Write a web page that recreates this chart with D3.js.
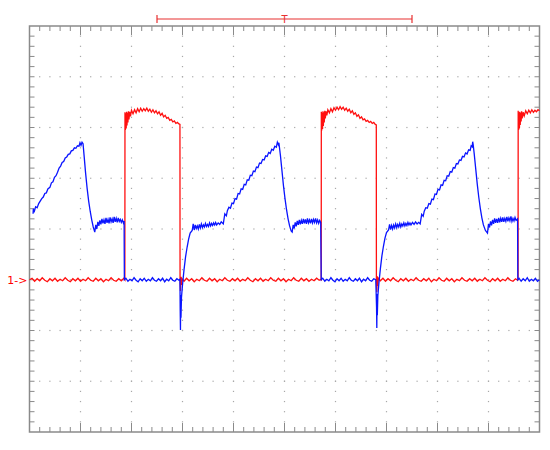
<!DOCTYPE html>
<html>
<head>
<meta charset="utf-8">
<script src="https://cdn.jsdelivr.net/npm/d3@7"></script>
<style>
  body { margin: 0; background: #fff; }
  svg { display: block; }
</style>
</head>
<body>
<div id="scope"></div>
<script>
// graticule: 10 x 8 divisions, 5 minor steps per division
var hDivs = 10;
var vDivs = 8;
var minorPerDiv = 5;

// time cursors and trigger marker (in divisions)
var cursorSpan = [2.5, 7.5];
var triggerPos = 5;
var triggerLabel = "T";

// channel ground marker
var channelLabel = "1->";
var channelOffset = -1;

// channel 1 (red) trace, [time div, volts div]
var redTrace = [
  [0,-1.00],[0.05,-0.97],[0.10,-1.03],[0.15,-0.98],[0.20,-1.02],[0.25,-0.96],[0.30,-1.01],[0.35,-1.04],[0.40,-0.98],[0.45,-1.02],
  [0.50,-0.97],[0.55,-1.03],[0.60,-0.99],[0.65,-1.02],[0.70,-0.96],[0.75,-1.01],[0.80,-1.04],[0.85,-0.98],[0.90,-1.02],[0.95,-0.97],
  [1.00,-1.03],[1.05,-0.99],[1.10,-1.02],[1.15,-0.96],[1.20,-1.01],[1.25,-1.03],[1.30,-0.97],[1.35,-1.02],[1.40,-0.98],[1.45,-1.04],
  [1.50,-0.99],[1.55,-1.02],[1.60,-0.96],[1.65,-1.01],[1.70,-1.03],[1.75,-0.98],[1.80,-1.02],[1.85,-0.97],
  [1.87,-1.00],[1.872,2.30],[1.88,1.95],[1.888,2.28],[1.896,1.98],[1.904,2.31],[1.912,2.04],[1.92,2.29],[1.93,2.10],[1.94,2.32],
  [1.95,2.16],[1.965,2.31],[1.98,2.22],[2.00,2.34],[2.03,2.27],[2.06,2.35],[2.09,2.29],[2.12,2.37],[2.15,2.31],[2.18,2.38],
  [2.21,2.32],[2.24,2.37],[2.27,2.33],[2.30,2.38],[2.33,2.32],[2.36,2.36],[2.39,2.30],[2.42,2.35],[2.45,2.29],[2.48,2.33],
  [2.51,2.27],[2.54,2.31],[2.57,2.24],[2.60,2.28],[2.63,2.21],[2.66,2.24],[2.69,2.18],[2.72,2.20],[2.75,2.14],[2.78,2.16],
  [2.81,2.11],[2.84,2.13],[2.87,2.08],[2.90,2.10],[2.93,2.07],[2.95,2.06],
  [2.952,-1.00],[2.96,-1.22],[2.97,-0.94],[2.98,-1.10],[2.99,-0.98],
  [3.03,-1.03],[3.08,-0.97],[3.13,-1.02],[3.18,-0.98],[3.23,-1.04],[3.28,-0.99],[3.33,-1.02],[3.38,-0.96],[3.43,-1.01],[3.48,-1.03],
  [3.53,-0.97],[3.58,-1.02],[3.63,-0.98],[3.68,-1.04],[3.73,-0.99],[3.78,-1.02],[3.83,-0.96],[3.88,-1.01],[3.93,-1.03],[3.98,-0.98],
  [4.03,-1.02],[4.08,-0.97],[4.13,-1.03],[4.18,-0.99],[4.23,-1.02],[4.28,-0.96],[4.33,-1.01],[4.38,-1.04],[4.43,-0.98],[4.48,-1.02],
  [4.53,-0.97],[4.58,-1.03],[4.63,-0.99],[4.68,-1.02],[4.73,-0.96],[4.78,-1.01],[4.83,-1.03],[4.88,-0.97],[4.93,-1.02],[4.98,-0.98],
  [5.03,-1.04],[5.08,-0.99],[5.13,-1.02],[5.18,-0.96],[5.23,-1.01],[5.28,-1.03],[5.33,-0.97],[5.38,-1.02],[5.43,-0.98],[5.48,-1.03],
  [5.53,-0.99],[5.58,-1.02],[5.63,-0.97],[5.68,-1.01],[5.71,-0.99],
  [5.72,-1.00],[5.722,2.31],[5.73,1.94],[5.738,2.29],[5.746,1.97],[5.754,2.32],[5.762,2.03],[5.77,2.30],[5.78,2.10],[5.79,2.33],
  [5.80,2.18],[5.815,2.32],[5.83,2.24],[5.85,2.35],[5.88,2.29],[5.91,2.37],[5.94,2.31],[5.97,2.39],[6.00,2.34],[6.03,2.40],
  [6.06,2.35],[6.09,2.41],[6.12,2.36],[6.15,2.40],[6.18,2.34],[6.21,2.38],[6.24,2.32],[6.27,2.36],[6.30,2.29],[6.33,2.33],
  [6.36,2.26],[6.39,2.29],[6.42,2.22],[6.45,2.25],[6.48,2.18],[6.51,2.21],[6.54,2.15],[6.57,2.17],[6.60,2.12],[6.63,2.14],
  [6.66,2.10],[6.69,2.12],[6.72,2.08],[6.75,2.10],[6.78,2.06],[6.80,2.05],
  [6.802,-1.00],[6.81,-1.24],[6.82,-0.93],[6.83,-1.12],[6.84,-0.97],
  [6.88,-1.02],[6.93,-0.97],[6.98,-1.03],[7.03,-0.98],[7.08,-1.02],[7.13,-0.96],[7.18,-1.01],[7.23,-1.04],[7.28,-0.98],[7.33,-1.02],
  [7.38,-0.97],[7.43,-1.03],[7.48,-0.99],[7.53,-1.02],[7.58,-0.96],[7.63,-1.01],[7.68,-1.03],[7.73,-0.98],[7.78,-1.02],[7.83,-0.97],
  [7.88,-1.04],[7.93,-0.99],[7.98,-1.02],[8.03,-0.96],[8.08,-1.01],[8.13,-1.03],[8.18,-0.97],[8.23,-1.02],[8.28,-0.98],[8.33,-1.04],
  [8.38,-0.99],[8.43,-1.02],[8.48,-0.96],[8.53,-1.01],[8.58,-1.03],[8.63,-0.98],[8.68,-1.02],[8.73,-0.97],[8.78,-1.03],[8.83,-0.99],
  [8.88,-1.02],[8.93,-0.96],[8.98,-1.01],[9.03,-1.04],[9.08,-0.98],[9.13,-1.02],[9.18,-0.97],[9.23,-1.03],[9.28,-0.99],[9.33,-1.02],
  [9.38,-0.96],[9.43,-1.01],[9.48,-1.03],[9.53,-0.98],[9.57,-1.01],
  [9.58,-1.00],[9.582,2.33],[9.59,1.95],[9.598,2.30],[9.606,1.98],[9.614,2.31],[9.622,2.05],[9.63,2.29],[9.64,2.12],[9.65,2.32],
  [9.66,2.18],[9.68,2.30],[9.70,2.23],[9.73,2.33],[9.76,2.27],[9.79,2.34],[9.82,2.29],[9.85,2.35],[9.88,2.30],[9.91,2.34],
  [9.94,2.31],[9.97,2.35],[10.0,2.33]
];

// channel 2 (blue) trace, [time div, volts div]
var blueTrace = [
  [0.07,0.30],[0.075,0.40],[0.09,0.33],[0.12,0.44],[0.15,0.42],[0.18,0.50],[0.21,0.55],[0.24,0.60],[0.27,0.63],[0.30,0.70],
  [0.33,0.71],[0.36,0.79],[0.40,0.82],[0.43,0.91],[0.46,0.93],[0.49,1.02],[0.52,1.05],[0.55,1.12],[0.58,1.20],[0.61,1.24],
  [0.64,1.31],[0.67,1.33],[0.70,1.40],[0.73,1.42],[0.76,1.47],[0.79,1.48],[0.82,1.54],[0.85,1.55],[0.88,1.60],[0.91,1.59],
  [0.94,1.64],[0.97,1.63],[0.99,1.70],[1.01,1.65],[1.03,1.71],[1.05,1.68],
  [1.07,1.45],[1.10,1.10],[1.13,0.80],[1.16,0.55],[1.19,0.35],[1.22,0.18],[1.25,0.04],[1.28,-0.06],
  [1.30,0.08],[1.32,0.00],[1.34,0.14],[1.36,0.06],[1.38,0.17],[1.40,0.09],[1.42,0.20],[1.44,0.11],[1.46,0.18],[1.48,0.10],
  [1.50,0.22],[1.52,0.12],[1.54,0.19],[1.56,0.11],[1.58,0.23],[1.60,0.14],[1.62,0.20],[1.64,0.12],[1.66,0.24],[1.68,0.14],
  [1.70,0.21],[1.72,0.13],[1.74,0.22],[1.76,0.15],[1.78,0.19],[1.80,0.13],[1.82,0.18],[1.84,0.12],[1.855,0.16],
  [1.86,-1.00],[1.89,-0.97],[1.93,-1.03],[1.97,-0.99],[2.01,-1.02],[2.05,-0.96],[2.09,-1.01],[2.13,-1.04],[2.17,-0.98],[2.21,-1.02],
  [2.25,-0.97],[2.29,-1.03],[2.33,-0.99],[2.37,-1.02],[2.41,-0.96],[2.45,-1.01],[2.49,-1.03],[2.53,-0.98],[2.57,-1.02],[2.61,-0.97],
  [2.65,-1.04],[2.69,-0.99],[2.73,-1.02],[2.77,-0.96],[2.81,-1.01],[2.85,-1.03],[2.89,-0.98],[2.93,-1.01],[2.95,-0.99],
  [2.955,-1.60],[2.96,-1.99],[2.965,-1.30],[2.97,-1.75],[2.98,-1.35],[3.00,-1.10],[3.03,-0.80],[3.06,-0.55],[3.09,-0.36],[3.12,-0.20],
  [3.15,-0.08],[3.19,-0.03],
  [3.21,0.10],[3.23,-0.02],[3.25,0.08],[3.27,0.01],[3.29,0.06],[3.31,0.00],[3.33,0.09],[3.35,0.02],[3.37,0.10],[3.39,0.03],
  [3.41,0.08],[3.43,0.04],[3.45,0.11],[3.47,0.05],[3.49,0.09],[3.51,0.05],[3.53,0.12],[3.55,0.06],[3.57,0.11],[3.59,0.07],
  [3.61,0.12],[3.63,0.08],[3.65,0.13],[3.67,0.08],[3.70,0.12],[3.73,0.09],[3.76,0.14],[3.80,0.10],
  [3.83,0.30],[3.86,0.26],[3.88,0.36],
  [3.91,0.43],[3.94,0.41],[3.97,0.51],[4.00,0.50],[4.03,0.60],[4.06,0.59],[4.09,0.70],[4.12,0.69],[4.15,0.79],[4.18,0.78],
  [4.21,0.88],[4.24,0.87],[4.27,0.97],[4.30,0.96],[4.33,1.06],[4.36,1.05],[4.39,1.14],[4.42,1.13],[4.45,1.22],[4.48,1.21],
  [4.51,1.30],[4.54,1.29],[4.57,1.37],[4.60,1.36],[4.63,1.44],[4.66,1.43],[4.69,1.51],[4.72,1.49],[4.75,1.57],[4.78,1.55],
  [4.81,1.63],[4.84,1.61],[4.86,1.71],[4.88,1.66],[4.89,1.70],
  [4.92,1.45],[4.95,1.15],[4.98,0.85],[5.01,0.60],[5.04,0.38],[5.07,0.20],[5.10,0.06],[5.13,-0.04],[5.15,-0.06],
  [5.17,0.08],[5.19,0.01],[5.21,0.13],[5.23,0.05],[5.25,0.16],[5.27,0.08],[5.29,0.18],[5.31,0.09],[5.33,0.17],[5.35,0.10],
  [5.37,0.20],[5.39,0.11],[5.41,0.19],[5.43,0.10],[5.45,0.21],[5.47,0.12],[5.49,0.18],[5.51,0.11],[5.53,0.20],[5.55,0.12],
  [5.57,0.19],[5.59,0.13],[5.61,0.21],[5.63,0.12],[5.65,0.18],[5.67,0.11],[5.69,0.17],[5.71,0.13],
  [5.72,-1.00],[5.75,-0.97],[5.79,-1.03],[5.83,-0.99],[5.87,-1.02],[5.91,-0.96],[5.95,-1.01],[5.99,-1.04],[6.03,-0.98],[6.07,-1.02],
  [6.11,-0.97],[6.15,-1.03],[6.19,-0.99],[6.23,-1.02],[6.27,-0.96],[6.31,-1.01],[6.35,-1.03],[6.39,-0.98],[6.43,-1.02],[6.47,-0.97],
  [6.51,-1.04],[6.55,-0.99],[6.59,-1.02],[6.63,-0.96],[6.67,-1.01],[6.71,-1.03],[6.75,-0.98],[6.79,-1.00],
  [6.805,-1.55],[6.81,-1.95],[6.815,-1.28],[6.82,-1.70],[6.83,-1.32],[6.85,-1.08],[6.88,-0.78],[6.91,-0.53],[6.94,-0.34],[6.97,-0.18],
  [7.00,-0.07],[7.04,-0.02],
  [7.06,0.09],[7.08,-0.01],[7.10,0.07],[7.12,0.00],[7.14,0.08],[7.16,0.02],[7.18,0.10],[7.20,0.03],[7.22,0.09],[7.24,0.04],
  [7.26,0.11],[7.28,0.04],[7.30,0.10],[7.32,0.06],[7.34,0.12],[7.36,0.06],[7.38,0.11],[7.40,0.07],[7.42,0.13],[7.44,0.08],
  [7.46,0.12],[7.48,0.08],[7.51,0.13],[7.54,0.09],[7.57,0.14],[7.60,0.10],[7.63,0.13],[7.66,0.10],
  [7.69,0.29],[7.72,0.25],[7.74,0.35],
  [7.77,0.42],[7.80,0.41],[7.83,0.50],[7.86,0.49],[7.89,0.59],[7.92,0.58],[7.95,0.69],[7.98,0.68],[8.01,0.78],[8.04,0.77],
  [8.07,0.87],[8.10,0.86],[8.13,0.96],[8.16,0.95],[8.19,1.05],[8.22,1.04],[8.25,1.13],[8.28,1.12],[8.31,1.21],[8.34,1.20],
  [8.37,1.29],[8.40,1.28],[8.43,1.36],[8.46,1.35],[8.49,1.43],[8.52,1.42],[8.55,1.50],[8.58,1.48],[8.61,1.56],[8.64,1.55],
  [8.66,1.64],[8.68,1.62],[8.69,1.72],[8.70,1.66],
  [8.72,1.48],[8.75,1.18],[8.78,0.88],[8.81,0.62],[8.84,0.40],[8.87,0.22],[8.90,0.08],[8.94,-0.03],[8.98,-0.08],
  [9.00,0.10],[9.02,0.03],[9.04,0.15],[9.06,0.07],[9.08,0.18],[9.10,0.10],[9.12,0.21],[9.14,0.12],[9.16,0.20],[9.18,0.12],
  [9.20,0.22],[9.22,0.13],[9.24,0.21],[9.26,0.14],[9.28,0.23],[9.30,0.14],[9.32,0.21],[9.34,0.15],[9.36,0.24],[9.38,0.15],
  [9.40,0.22],[9.42,0.16],[9.44,0.25],[9.46,0.15],[9.48,0.21],[9.50,0.16],[9.52,0.23],[9.54,0.17],[9.57,0.20],
  [9.575,-1.00],[9.60,-0.97],[9.64,-1.03],[9.68,-0.98],[9.72,-1.02],[9.76,-0.96],[9.80,-1.03],[9.84,-0.99],[9.88,-1.02],[9.92,-0.97],
  [9.96,-1.03],[10.0,-1.00]
];

var width = 550, height = 450;
// frame edges in pixels ("top" is reserved on window, so prefixed names)
var frameLeft = 29.5, frameRight = 539.5, frameTop = 26, frameBottom = 432;

var svg = d3.select('#scope').append('svg')
  .attr('width', width)
  .attr('height', height);

var x = d3.scaleLinear().domain([0, hDivs]).range([frameLeft, frameRight]);
var y = d3.scaleLinear().domain([-vDivs / 2, vDivs / 2]).range([frameBottom, frameTop]);

var minorX = d3.range(0, hDivs * minorPerDiv + 1).map(function(i) { return i / minorPerDiv; });
var minorY = d3.range(0, vDivs * minorPerDiv + 1).map(function(i) { return -vDivs / 2 + i / minorPerDiv; });
var majorX = d3.range(1, hDivs);
var majorY = d3.range(-vDivs / 2 + 1, vDivs / 2);

// dotted graticule
var dots = svg.append('g').attr('fill', '#a8a8a8');
majorX.forEach(function(t) {
  minorY.slice(1, -1).forEach(function(v) {
    dots.append('rect').attr('x', x(t) - 0.6).attr('y', y(v) - 0.6).attr('width', 1.2).attr('height', 1.2);
  });
});
majorY.forEach(function(v) {
  minorX.slice(1, -1).forEach(function(t) {
    dots.append('rect').attr('x', x(t) - 0.6).attr('y', y(v) - 0.6).attr('width', 1.2).attr('height', 1.2);
  });
});

// ticks on the frame, pointing inward
function isMajor(d) { return Math.abs(d - Math.round(d)) < 1e-6; }
var ticks = svg.append('g').attr('stroke', '#8a8a8a').attr('stroke-width', 1);
minorX.slice(1, -1).forEach(function(t) {
  var len = isMajor(t) ? 9 : 5;
  ticks.append('line').attr('x1', x(t)).attr('x2', x(t)).attr('y1', frameTop).attr('y2', frameTop + len);
  ticks.append('line').attr('x1', x(t)).attr('x2', x(t)).attr('y1', frameBottom).attr('y2', frameBottom - len);
});
minorY.slice(1, -1).forEach(function(v) {
  ticks.append('line').attr('x1', frameLeft).attr('x2', frameLeft + 5).attr('y1', y(v)).attr('y2', y(v));
  ticks.append('line').attr('x1', frameRight).attr('x2', frameRight - 5).attr('y1', y(v)).attr('y2', y(v));
});

// frame
svg.append('rect')
  .attr('x', frameLeft).attr('y', frameTop)
  .attr('width', frameRight - frameLeft).attr('height', frameBottom - frameTop)
  .attr('fill', 'none')
  .attr('stroke', '#8a8a8a')
  .attr('stroke-width', 1.5);

// traces
var line = d3.line()
  .x(function(d) { return x(d[0]); })
  .y(function(d) { return y(d[1]); });

svg.append('path')
  .datum(redTrace)
  .attr('d', line)
  .attr('fill', 'none')
  .attr('stroke', '#ff1010')
  .attr('stroke-width', 1.3);

svg.append('path')
  .datum(blueTrace)
  .attr('d', line)
  .attr('fill', 'none')
  .attr('stroke', '#0a14ff')
  .attr('stroke-width', 1.3);

// cursor bar with trigger marker
var barY = 19;
var marker = svg.append('g').attr('stroke', '#e83030').attr('stroke-width', 1.2);
marker.append('line').attr('x1', x(cursorSpan[0])).attr('x2', x(cursorSpan[1])).attr('y1', barY).attr('y2', barY);
cursorSpan.forEach(function(t) {
  marker.append('line').attr('x1', x(t)).attr('x2', x(t)).attr('y1', barY - 4).attr('y2', barY + 4);
});
svg.append('text')
  .attr('x', x(triggerPos))
  .attr('y', barY + 4)
  .attr('text-anchor', 'middle')
  .attr('font-family', 'DejaVu Sans, sans-serif')
  .attr('font-size', '10px')
  .attr('fill', '#e83030')
  .text(triggerLabel);

// channel ground marker
svg.append('text')
  .attr('x', frameLeft - 2)
  .attr('y', y(channelOffset) + 4)
  .attr('text-anchor', 'end')
  .attr('font-family', 'DejaVu Sans, sans-serif')
  .attr('font-size', '11px')
  .attr('fill', '#ff0000')
  .text(channelLabel);
</script>
</body>
</html>
